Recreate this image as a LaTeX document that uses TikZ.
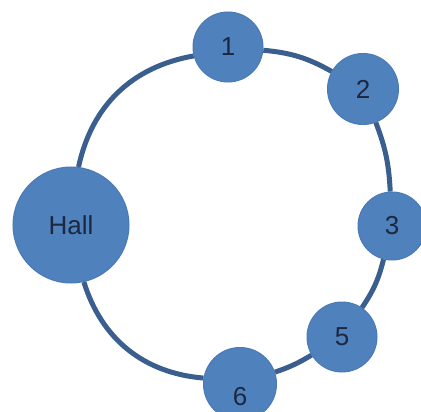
\documentclass[tikz,border=0pt]{standalone}
\usepackage{fontspec}
\setmainfont{Liberation Sans}
\definecolor{ballfill}{HTML}{4F81BD}
\definecolor{ballrim}{HTML}{4A7AB5}
\definecolor{ringcol}{HTML}{3A5F8E}
\definecolor{txtcol}{HTML}{1C2740}
\begin{document}
\begin{tikzpicture}[x=1pt,y=1pt,
  ball/.style={circle, fill=ballfill, draw=ballrim, line width=1pt, inner sep=0pt,
    text=txtcol, font=\fontsize{26}{26}\selectfont},
  ring/.style={draw=ringcol, line width=5pt}]
\useasboundingbox (0,0) rectangle (421,-412);
\fill[white] (0,0) rectangle (421,-412);
\node[ball, minimum size=116pt] (hall) at (71,-225) {Hall};
\node[ball, minimum size=70pt] (n1) at (228,-47) {1};
\node[ball, minimum size=71pt] (n2) at (363,-89) {\raisebox{-4pt}{2}};
\node[ball, minimum size=68pt] (n3) at (392,-226) {3};
\node[ball, minimum size=70pt] (n5) at (342,-337) {\raisebox{-7pt}{5}};
\node[ball, minimum size=73pt, label={[text=txtcol, font=\fontsize{26}{26}\selectfont, yshift=-13pt]center:6}] (n6) at (240,-384) {};
\draw[ring] (hall) to[bend left=34] (n1);
\draw[ring] (n1) to[bend left=12] (n2);
\draw[ring] (n2) to[bend left=9] (n3);
\draw[ring] (n3) to[bend left=10] (n5);
\draw[ring] (n5) to[bend left=6] (n6);
\draw[ring] (n6) to[bend left=34] (hall);
\end{tikzpicture}
\end{document}
